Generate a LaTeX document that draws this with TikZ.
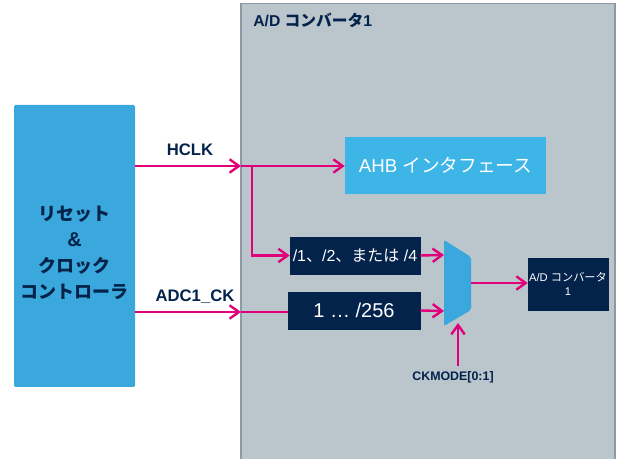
\documentclass[tikz,border=0pt]{standalone}
\usepackage{fontspec}
\setmainfont{Liberation Sans}
\newfontfamily\jp{Noto Sans CJK JP}
\usetikzlibrary{arrows.meta}
\definecolor{navy}{HTML}{03234B}
\definecolor{framegray}{HTML}{BAC5CC}
\definecolor{frameline}{HTML}{8E9AA3}
\definecolor{lblue}{HTML}{3AA8DC}
\definecolor{ablue}{HTML}{3DB5E6}
\definecolor{magenta}{HTML}{E0007A}
\tikzset{
  sig/.style={draw=magenta, line width=1.8pt, -{Straight Barb[length=7pt,width=10pt,line width=1.8pt]}},
  sigline/.style={draw=magenta, line width=1.8pt},
  navybox/.style={fill=navy, draw=navy, text=white, inner sep=0pt, align=center},
  lbl/.style={text=navy, font=\bfseries, inner sep=0pt}
}
\begin{document}
\begin{tikzpicture}[x=0.75pt,y=-0.75pt]
\useasboundingbox (0,0) rectangle (621,459);
% frame
\node[fill=framegray, draw=frameline, line width=0.8pt, minimum width=280.5pt, minimum height=346pt, inner sep=0pt] (frame) at (428,234) {};
\node[lbl, anchor=west, font=\fontsize{11.8}{13}\bfseries] (title) at (253,20) {A/D {\jp\bfseries コンバータ}1};
% reset & clock controller
\node[fill=lblue, rounded corners=1pt, minimum width=90.75pt, minimum height=211.5pt, inner sep=0pt] (rcc) at (74.5,246) {};
\node[text=navy, align=center, font=\fontsize{13.5}{19.5}\jp\bfseries] (rcctext) at (74.5,253) {リセット\\{\fontspec{Liberation Sans}\bfseries\fontsize{15}{19.5}\selectfont\&}\\クロック\\コントローラ};
% AHB interface
\node[fill=ablue, text=white, minimum width=150.75pt, minimum height=42.75pt, inner sep=0pt, font=\fontsize{14}{16}\selectfont] (ahb) at (445.5,165.5) {AHB {\jp インタフェース}};
% dividers
\node[navybox, minimum width=97.5pt, minimum height=27.75pt, font=\fontsize{12}{14}\selectfont] (div1) at (355,255.5) {/1{\jp 、}/2{\jp 、または} /4};
\node[navybox, minimum width=99pt, minimum height=27.75pt, font=\fontsize{15}{17}\selectfont] (div2) at (354,310.5) {1 … /256};
% ADC
\node[navybox, minimum width=60pt, minimum height=39pt, font=\fontsize{8.4}{11}\selectfont] (adc) at (568,284) {A/D {\jp コンバータ}\\1};
% mux
\fill[lblue, rounded corners=1.5pt] (444,240) -- (471,257) -- (471,310) -- (444,326) -- cycle;
\coordinate (muxin1) at (444,255);
\coordinate (muxin2) at (444,311);
\coordinate (muxout) at (471,283);
\coordinate (muxsel) at (458,323);
% signals
\coordinate (h) at (241,166);
\coordinate (br) at (252,166);
\coordinate (a) at (241,312);
\coordinate (cksrc) at (458,366);
\draw[sig] (rcc.east |- h) -- (h);
\draw[sig] (h) -- (ahb.west |- h);
\draw[sig] (br) |- (div1.west);
\draw[sig] (rcc.east |- a) -- (a);
\draw[sigline] (a) -- (div2.west |- a);
\draw[sig] (div1.east) -- (muxin1);
\draw[sig] (div2.east) -- (muxin2);
\draw[sig] (muxout) -- (adc.west |- muxout);
\draw[sig] (cksrc) -- (muxsel);
% labels
\node[lbl, font=\fontsize{12.5}{14}\bfseries] (hclk) at (190,150) {HCLK};
\node[lbl, font=\fontsize{12.5}{14}\bfseries] (adcck) at (195,297) {ADC1\_CK};
\node[lbl, font=\fontsize{9.3}{11}\bfseries] (ckmode) at (453,377) {CKMODE[0:1]};
\end{tikzpicture}
\end{document}
